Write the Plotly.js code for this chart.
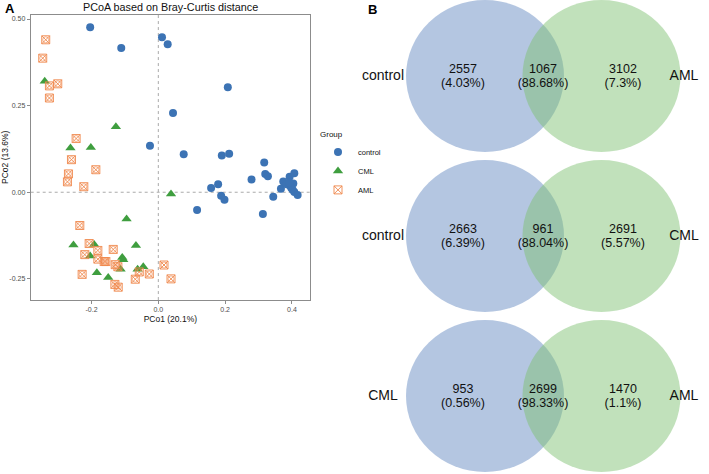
<!DOCTYPE html>
<html>
<head>
<meta charset="utf-8">
<script src="https://cdn.plot.ly/plotly-3.0.1.min.js"></script>
<style>
  body { margin: 0; background: #fff; }
  #chart { width: 709px; height: 474px; }
</style>
</head>
<body>
<div id="chart"></div>
<script>
// PCoA coordinates
const controlX = [-0.204, -0.111, 0.011, 0.028, 0.044, -0.025, 0.208, 0.076, 0.190, 0.212, 0.317,
  0.320, 0.328, 0.279, 0.179, 0.158, 0.188, 0.198, 0.116, 0.313, 0.344, 0.367, 0.374, 0.393,
  0.407, 0.384, 0.394, 0.404, 0.398, 0.402, 0.407, 0.417, 0.392];
const controlY = [0.476, 0.416, 0.447, 0.427, 0.229, 0.134, 0.303, 0.110, 0.106, 0.111, 0.086,
  0.053, 0.046, 0.037, 0.023, 0.012, -0.010, -0.022, -0.051, -0.063, -0.013, 0.010, 0.031, 0.045,
  0.055, 0.023, 0.019, 0.025, 0.012, 0.007, 0.001, -0.008, 0.028];

const cmlX = [-0.340, -0.263, -0.202, -0.127, -0.254, -0.192, -0.204, -0.095, -0.067, -0.108,
  -0.105, -0.113, -0.184, -0.150, -0.062, -0.045, 0.038];
const cmlY = [0.320, 0.128, 0.129, 0.189, -0.152, -0.151, -0.184, -0.077, -0.154, -0.188,
  -0.195, -0.222, -0.232, -0.246, -0.222, -0.215, -0.005];

const amlX = [-0.337, -0.346, -0.326, -0.301, -0.326, -0.246, -0.260, -0.269, -0.272, -0.187,
  -0.223, -0.235, -0.207, -0.220, -0.181, -0.181, -0.162, -0.157, -0.135, -0.129, -0.121,
  -0.228, -0.130, -0.120, -0.069, -0.057, -0.027, 0.017, 0.038];
const amlY = [0.440, 0.387, 0.307, 0.313, 0.272, 0.155, 0.094, 0.053, 0.030, 0.065,
  0.016, -0.096, -0.148, -0.180, -0.168, -0.193, -0.200, -0.200, -0.165, -0.209, -0.215,
  -0.237, -0.266, -0.274, -0.251, -0.230, -0.236, -0.210, -0.250];

const xTickVals = [-0.2, 0.0, 0.2, 0.4];
const xTickText = ['-0.2', '0.0', '0.2', '0.4'];
const yTickVals = [-0.25, 0.0, 0.25, 0.5];
const yTickText = ['-0.25', '0.00', '0.25', '0.50'];

// Venn diagrams (panel B)
const vennLeft = ['control', 'control', 'CML'];
const vennRight = ['AML', 'CML', 'AML'];
const leftOnly = [2557, 2663, 953];
const leftPct = ['4.03%', '6.39%', '0.56%'];
const shared = [1067, 961, 2699];
const sharedPct = ['88.68%', '88.04%', '98.33%'];
const rightOnly = [3102, 2691, 1470];
const rightPct = ['7.3%', '5.57%', '1.1%'];

const W = 709, H = 474;
const font = 'Liberation Sans, Arial, sans-serif';

const traces = [
  {
    x: controlX, y: controlY, name: 'control', type: 'scatter', mode: 'markers',
    marker: { color: '#3C73B4', size: 8, symbol: 'circle' }
  },
  {
    x: cmlX, y: cmlY, name: 'CML', type: 'scatter', mode: 'markers',
    marker: { color: '#3F9E3F', size: 9, symbol: 'triangle-up' }
  },
  {
    x: amlX, y: amlY, name: 'AML', type: 'scatter', mode: 'markers', legendgroup: 'aml',
    marker: { color: 'rgba(240,135,75,0.9)', size: 8, symbol: 'square-x-open', line: { width: 1 } }
  },
  {
    x: amlX, y: amlY, name: 'AML', type: 'scatter', mode: 'markers', legendgroup: 'aml',
    showlegend: false, hoverinfo: 'skip',
    marker: { color: 'rgba(240,135,75,0.8)', size: 6, symbol: 'circle-open', line: { width: 0.8 } }
  }
];

// Venn geometry in pixel-like coordinates of the right panel
const rowCy = [76, 236, 396];
const leftCx = 485, rightCx = 601.5, rx = 79, ry = 76;
const shapes = [
  { type: 'line', xref: 'x', yref: 'paper', x0: 0, x1: 0, y0: 0.367, y1: 0.969,
    line: { color: '#aaa', width: 1, dash: '3px,3px' }, layer: 'below' },
  { type: 'line', xref: 'paper', yref: 'y', x0: 0.0433, x1: 0.4372, y0: 0, y1: 0,
    line: { color: '#aaa', width: 1, dash: '3px,3px' }, layer: 'below' }
];
rowCy.forEach(cy => {
  shapes.push({ type: 'circle', xref: 'x2', yref: 'y2', x0: leftCx - rx, x1: leftCx + rx,
    y0: cy - ry, y1: cy + ry, fillcolor: 'rgba(105,142,195,0.5)', line: { width: 0 }, layer: 'below' });
  shapes.push({ type: 'circle', xref: 'x2', yref: 'y2', x0: rightCx - rx, x1: rightCx + rx,
    y0: cy - ry, y1: cy + ry, fillcolor: 'rgba(125,192,112,0.48)', line: { width: 0 }, layer: 'below' });
});

// counts on one line, percentages just below
const cntX = [], cntY = [], cntText = [], pctY = [], pctText = [];
rowCy.forEach((cy, i) => {
  cntX.push(463, 543, 623);
  cntY.push(cy - 6, cy - 6, cy - 6);
  pctY.push(cy + 8, cy + 8, cy + 8);
  cntText.push(String(leftOnly[i]), String(shared[i]), String(rightOnly[i]));
  pctText.push('(' + leftPct[i] + ')', '(' + sharedPct[i] + ')', '(' + rightPct[i] + ')');
});
const vennText = { family: font, size: 12.5, color: '#111' };
traces.push({
  x: cntX, y: cntY, text: cntText, xaxis: 'x2', yaxis: 'y2', type: 'scatter', mode: 'text',
  showlegend: false, hoverinfo: 'skip', textfont: vennText
});
traces.push({
  x: cntX, y: pctY, text: pctText, xaxis: 'x2', yaxis: 'y2', type: 'scatter', mode: 'text',
  showlegend: false, hoverinfo: 'skip', textfont: vennText
});
traces.push({
  x: rowCy.map(() => 383).concat(rowCy.map(() => 684)),
  y: rowCy.concat(rowCy),
  text: vennLeft.concat(vennRight), xaxis: 'x2', yaxis: 'y2', type: 'scatter', mode: 'text',
  showlegend: false, hoverinfo: 'skip',
  textfont: { family: font, size: 14, color: '#111' }
});

const axisStyle = {
  showgrid: false, zeroline: false, showline: true, mirror: true,
  linecolor: '#8c8c8c', linewidth: 1, ticks: 'outside', ticklen: 3, tickcolor: '#8c8c8c',
  tickfont: { family: font, size: 7, color: '#4d4d4d' }
};

const layout = {
  width: W, height: H,
  margin: { l: 0, r: 0, t: 0, b: 0 },
  paper_bgcolor: '#fff', plot_bgcolor: 'rgba(0,0,0,0)',
  font: { family: font },
  showlegend: true,
  xaxis: Object.assign({}, axisStyle, {
    domain: [30.7 / W, 310 / W], range: [-0.382, 0.454], anchor: 'y',
    tickvals: xTickVals, ticktext: xTickText,
    title: { text: 'PCo1 (20.1%)', font: { family: font, size: 8.5, color: '#111' }, standoff: 3 }
  }),
  yaxis: Object.assign({}, axisStyle, {
    domain: [(H - 300) / H, (H - 14.5) / H], range: [-0.311, 0.513], anchor: 'x',
    tickvals: yTickVals, ticktext: yTickText,
    title: { text: 'PCo2 (13.6%)', font: { family: font, size: 8.5, color: '#111' }, standoff: 4 }
  }),
  xaxis2: { domain: [360 / W, 1], range: [360, 709], visible: false, anchor: 'y2', fixedrange: true },
  yaxis2: { domain: [0, 1], range: [474, 0], visible: false, anchor: 'x2', fixedrange: true },
  legend: {
    x: 318 / W, y: (H - 127) / H, xanchor: 'left', yanchor: 'top',
    title: { text: 'Group', font: { family: font, size: 8, color: '#111' } },
    font: { family: font, size: 7.5, color: '#111' },
    itemwidth: 30, tracegroupgap: 0, bgcolor: 'rgba(0,0,0,0)'
  },
  shapes: shapes,
  annotations: [
    { text: 'PCoA based on Bray-Curtis distance', xref: 'paper', yref: 'paper',
      x: 170 / W, y: (H - 7) / H, xanchor: 'center', yanchor: 'middle', showarrow: false,
      font: { family: font, size: 10.8, color: '#111' } },
    { text: '<b>A</b>', xref: 'paper', yref: 'paper', x: 3 / W, y: (H - 9) / H,
      xanchor: 'left', yanchor: 'middle', showarrow: false,
      font: { family: font, size: 13, color: '#000' } },
    { text: '<b>B</b>', xref: 'paper', yref: 'paper', x: 366 / W, y: (H - 10) / H,
      xanchor: 'left', yanchor: 'middle', showarrow: false,
      font: { family: font, size: 13, color: '#000' } }
  ]
};

Plotly.newPlot('chart', traces, layout, { displayModeBar: false, staticPlot: true });
</script>
</body>
</html>
